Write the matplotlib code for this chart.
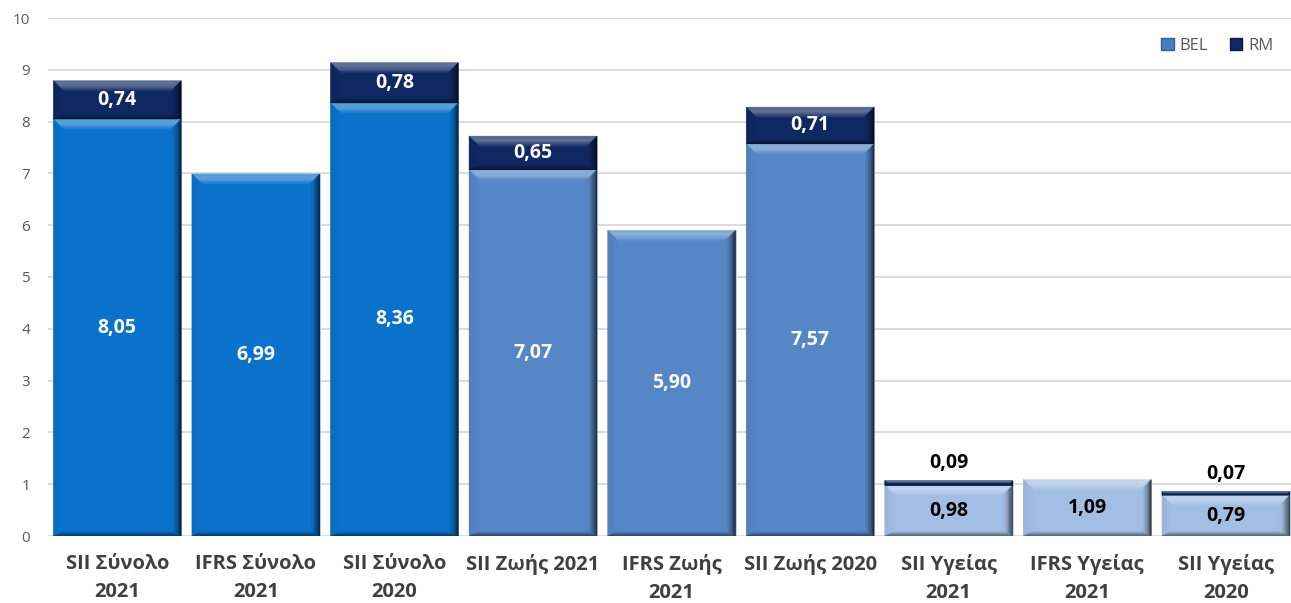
import matplotlib
matplotlib.use("Agg")
import matplotlib.pyplot as plt
from matplotlib.patches import Polygon, Rectangle
import matplotlib.colors as mcolors
import numpy as np

categories = ["SII Σύνολο\n2021", "IFRS Σύνολο\n2021", "SII Σύνολο\n2020",
              "SII Ζωής 2021", "IFRS Ζωής\n2021", "SII Ζωής 2020",
              "SII Υγείας\n2021", "IFRS Υγείας\n2021", "SII Υγείας\n2020"]
bel = [8.05, 6.99, 8.36, 7.07, 5.90, 7.57, 0.98, 1.09, 0.79]
rm = [0.74, 0.00, 0.78, 0.65, 0.00, 0.71, 0.09, 0.00, 0.07]
yticks = list(range(0, 11))

bel_colors = ["#0A72CA"] * 3 + ["#5586C6"] * 3 + ["#A2BEE3"] * 3
rm_color = "#0F2862"
label_colors = ["white"] * 6 + ["black"] * 3

plt.rcParams['font.family'] = ['Open Sans', 'DejaVu Sans']

fig = plt.figure(figsize=(12.91, 6.03), dpi=100)
W, H = 1291, 603
left_px, right_px, top_px, bot_px = 48, 1291, 18, 536
ax = fig.add_axes([left_px / W, 1 - bot_px / H, (right_px - left_px) / W, (bot_px - top_px) / H])
ax.set_xlim(-0.5, 8.47)
ax.set_ylim(0, 10)

for s in ax.spines.values():
    s.set_visible(False)
ax.set_yticks(yticks)
ax.set_yticklabels([str(t) for t in yticks], color="#595959", fontsize=11)
ax.tick_params(axis='y', length=0, pad=13)
ax.tick_params(axis='x', length=0, pad=13)
ax.yaxis.grid(True, color="#D9D9D9", linewidth=1.3)
ax.set_axisbelow(True)

x = np.arange(len(categories))
width = 0.923
b1 = ax.bar(x, bel, width, color=bel_colors, edgecolor="#C8CED6", linewidth=0.6, label="BEL", zorder=2)
b2 = ax.bar(x, rm, width, bottom=bel, color=rm_color, edgecolor="#C8CED6", linewidth=0.6, label="RM", zorder=2)

ax.set_xticks(x)
ax.set_xticklabels(categories, fontsize=14.5, fontweight='bold', color="#404040", linespacing=1.5)

# bevel decoration derived from bar geometry
px_x = (right_px - left_px) / (8.47 + 0.5)
px_y = (bot_px - top_px) / 10.0

def shade(c, f):
    r = np.array(mcolors.to_rgb(c))
    if f > 0:
        r = r + (1 - r) * f
    else:
        r = r * (1 + f)
    return tuple(np.clip(r, 0, 1))

def bevel(patch, n=8):
    x0, y0 = patch.get_x(), patch.get_y()
    w, h = patch.get_width(), patch.get_height()
    if h <= 0:
        return
    c = patch.get_facecolor()
    hp = h * px_y
    scale = min(1.0, hp / 16.0)
    bl, br, bt, bb = 10 * scale, 10 * scale, 10 * scale, 5 * scale
    x1, y1 = x0 + w, y0 + h
    ix0, ix1 = x0 + bl / px_x, x1 - br / px_x
    iy0, iy1 = y0 + bb / px_y, y1 - bt / px_y

    def rect(t):
        return (x0 + (ix0 - x0) * t, x1 + (ix1 - x1) * t,
                y0 + (iy0 - y0) * t, y1 + (iy1 - y1) * t)

    ts = np.linspace(0, 1, n + 1)
    for k in range(n):
        a0, a1, c0, c1 = rect(ts[k])
        b0, b1_, d0, d1 = rect(ts[k + 1])
        tm = (ts[k] + ts[k + 1]) / 2
        top_c = shade(c, 0.30 * np.sin(np.pi * (0.25 + 0.75 * tm)) + 0.05)
        left_c = shade(c, -0.06 * (1 - tm))
        right_c = shade(c, -0.75 * (1 - tm) ** 1.6)
        bot_c = shade(c, -0.55 * (1 - tm))
        ax.add_patch(Polygon([(a0, c1), (a1, c1), (b1_, d1), (b0, d1)], facecolor=top_c,
                             edgecolor=top_c, linewidth=0.3, zorder=2.5))
        ax.add_patch(Polygon([(a0, c0), (a0, c1), (b0, d1), (b0, d0)], facecolor=left_c,
                             edgecolor=left_c, linewidth=0.3, zorder=2.5))
        ax.add_patch(Polygon([(a1, c0), (a1, c1), (b1_, d1), (b1_, d0)], facecolor=right_c,
                             edgecolor=right_c, linewidth=0.3, zorder=2.5))
        ax.add_patch(Polygon([(a0, c0), (a1, c0), (b1_, d0), (b0, d0)], facecolor=bot_c,
                             edgecolor=bot_c, linewidth=0.3, zorder=2.5))

for p in list(b1) + list(b2):
    bevel(p)

# labels
for i in range(len(categories)):
    ax.text(x[i], bel[i] / 2, f"{bel[i]:.2f}".replace('.', ','), ha='center', va='center',
            color=label_colors[i], fontsize=14, fontweight='bold', zorder=4)
    if rm[i] > 0:
        if rm[i] > 0.3:
            ax.text(x[i], bel[i] + rm[i] / 2, f"{rm[i]:.2f}".replace('.', ','), ha='center', va='center',
                    color='white', fontsize=14, fontweight='bold', zorder=4)
        else:
            ax.text(x[i], bel[i] + rm[i] + 0.14, f"{rm[i]:.2f}".replace('.', ','), ha='center', va='bottom',
                    color='black', fontsize=14, fontweight='bold', zorder=4)

h1 = Rectangle((0, 0), 1, 1, facecolor="#4A7CC0", edgecolor="#2F5D9A")
h2 = Rectangle((0, 0), 1, 1, facecolor=rm_color, edgecolor="#0A1A44")
leg = ax.legend([h1, h2], ["BEL", "RM"], loc='upper right', bbox_to_anchor=(0.998, 0.99), ncol=2,
                frameon=False, fontsize=12, handlelength=0.75, handleheight=0.75, columnspacing=1.3,
                handletextpad=0.35)
for t in leg.get_texts():
    t.set_color("#595959")

fig.savefig("out.png", dpi=100)
